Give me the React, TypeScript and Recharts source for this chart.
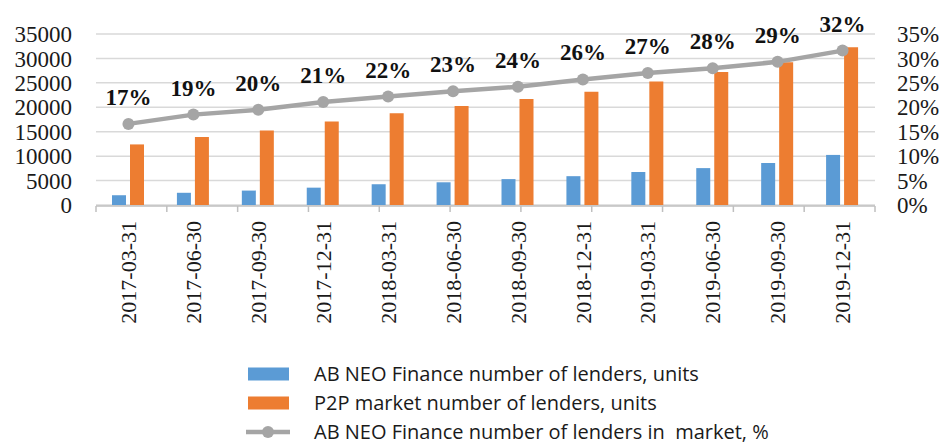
import { Bar, ComposedChart, Line, XAxis, YAxis, CartesianGrid, Legend, LabelList } from "recharts"

const dates = [
  "2017-03-31", "2017-06-30", "2017-09-30", "2017-12-31",
  "2018-03-31", "2018-06-30", "2018-09-30", "2018-12-31",
  "2019-03-31", "2019-06-30", "2019-09-30", "2019-12-31",
]
const neoLenders = [2000, 2500, 2950, 3550, 4250, 4650, 5300, 5900, 6750, 7550, 8600, 10250]
const p2pLenders = [12400, 13900, 15250, 17100, 18800, 20250, 21700, 23200, 25300, 27200, 29200, 32300]
const neoShare = [16.6, 18.5, 19.5, 21.1, 22.2, 23.3, 24.2, 25.7, 27.0, 28.0, 29.3, 31.6]

const unitTicks = [0, 5000, 10000, 15000, 20000, 25000, 30000, 35000]
const pctTicks = [0, 5, 10, 15, 20, 25, 30, 35]
const edgeTicks = dates.map((_, i) => i).concat(dates.length)
const legendOrder = ["neo", "p2p", "share"]

const data = dates.map((date, i) => ({
  date,
  neo: neoLenders[i],
  p2p: p2pLenders[i],
  share: neoShare[i],
}))

const serif = "'Liberation Serif', 'Times New Roman', serif"
const sans = "'Open Sans', 'Noto Sans', sans-serif"

function DateTick(props: any) {
  const { x, y, payload } = props
  return (
    <text
      transform={`translate(${x},${y}) rotate(-90)`}
      textAnchor="end"
      dy="0.35em"
      fontFamily={serif}
      fontSize={22}
      fill="#1a1a1a"
    >
      {payload.value}
    </text>
  )
}

// boundary ticks only need their tick line, no label
function NoLabel() {
  return <g />
}

function LegendBox(props: any) {
  const items = [...(props.payload || [])].sort(
    (a: any, b: any) => legendOrder.indexOf(a.dataKey) - legendOrder.indexOf(b.dataKey)
  )
  return (
    <div style={{ fontFamily: sans, fontSize: 20, color: "#1a1a1a" }}>
      {items.map((it: any) => (
        <div key={it.value} style={{ display: "flex", alignItems: "center", height: 29 }}>
          <svg width={44} height={16} style={{ flex: "none" }}>
            {it.type === "line" ? (
              <>
                <line x1={0} y1={8} x2={44} y2={8} stroke={it.color} strokeWidth={4.5} />
                <circle cx={22} cy={8} r={6} fill={it.color} />
              </>
            ) : (
              <rect x={2} y={1.5} width={41} height={13} fill={it.color} />
            )}
          </svg>
          <span style={{ marginLeft: 24, whiteSpace: "pre", lineHeight: "24px" }}>{it.value}</span>
        </div>
      ))}
    </div>
  )
}

export default function App() {
  return (
    <div style={{ width: 943, height: 444, background: "#fff" }}>
      <style>{"body{margin:0}"}</style>
      <ComposedChart
        width={943}
        height={444}
        data={data}
        margin={{ top: 34, right: 0, left: 0, bottom: 237 }}
        barSize={14}
        barGap={4}
      >
        <CartesianGrid yAxisId="left" vertical={false} stroke="#d9d9d9" strokeWidth={1.5} />
        <XAxis
          xAxisId="edge"
          type="number"
          domain={[0, dates.length]}
          ticks={edgeTicks}
          interval={0}
          tick={<NoLabel />}
          tickSize={6}
          height={1}
          stroke="#bfbfbf"
          axisLine={{ stroke: "#bfbfbf", strokeWidth: 1.5 }}
          tickLine={{ stroke: "#bfbfbf", strokeWidth: 1.5 }}
        />
        <XAxis
          dataKey="date"
          height={1}
          interval={0}
          axisLine={false}
          tickLine={false}
          tickSize={6}
          tickMargin={10}
          tick={<DateTick />}
        />
        <YAxis
          yAxisId="left"
          width={96}
          domain={[0, 35000]}
          ticks={unitTicks}
          interval={0}
          axisLine={false}
          tickLine={false}
          tickSize={0}
          tickMargin={24}
          tick={{ fontFamily: serif, fontSize: 23, fill: "#1a1a1a" }}
        />
        <YAxis
          yAxisId="right"
          orientation="right"
          width={68}
          domain={[0, 35]}
          ticks={pctTicks}
          interval={0}
          tickFormatter={(v: number) => `${v}%`}
          axisLine={false}
          tickLine={false}
          tickSize={0}
          tickMargin={22}
          tick={{ fontFamily: serif, fontSize: 23, fill: "#1a1a1a", textAnchor: "start" }}
        />
        <Bar
          yAxisId="left"
          dataKey="neo"
          name="AB NEO Finance number of lenders, units"
          fill="#5B9BD5"
          isAnimationActive={false}
        />
        <Bar
          yAxisId="left"
          dataKey="p2p"
          name="P2P market number of lenders, units"
          fill="#ED7D31"
          isAnimationActive={false}
        />
        <Line
          yAxisId="right"
          dataKey="share"
          name="AB NEO Finance number of lenders in  market, %"
          stroke="#A5A5A5"
          strokeWidth={4.5}
          dot={{ r: 6, fill: "#A5A5A5", stroke: "none" }}
          isAnimationActive={false}
        >
          <LabelList
            dataKey="share"
            position="top"
            offset={19}
            formatter={(v: any) => `${Math.round(Number(v))}%`}
            style={{ fontFamily: serif, fontWeight: "bold", fontSize: 23, fill: "#111" }}
          />
        </Line>
        <Legend
          layout="vertical"
          verticalAlign="middle"
          align="center"
          wrapperStyle={{ top: 359, left: 246, width: "auto" }}
          content={<LegendBox />}
        />
      </ComposedChart>
    </div>
  )
}
